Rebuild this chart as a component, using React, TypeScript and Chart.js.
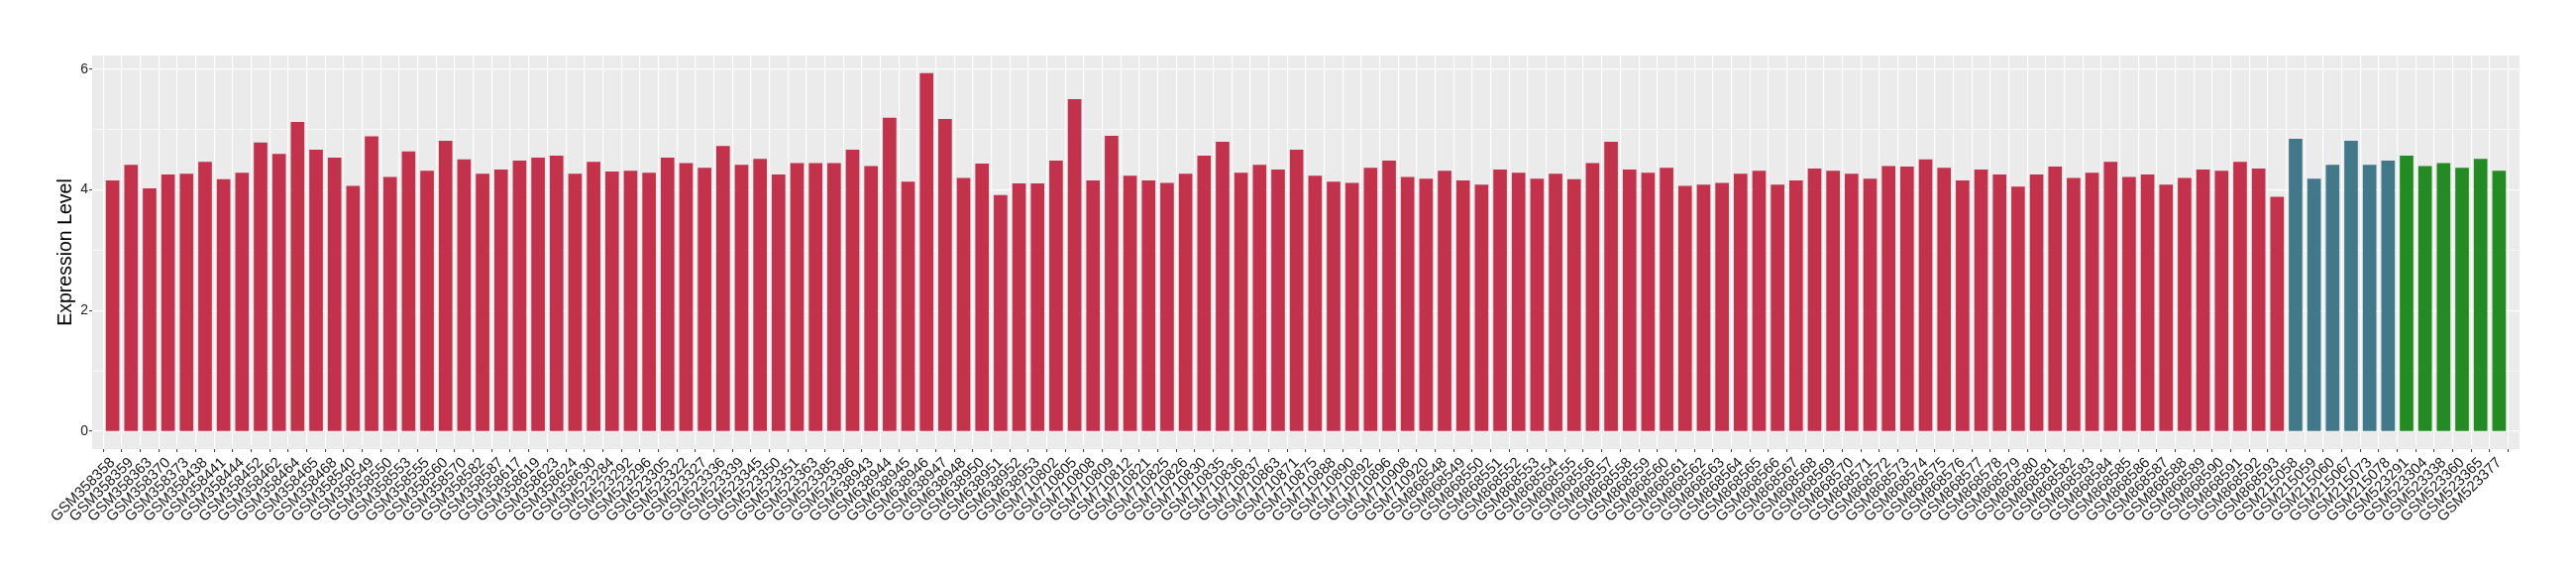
import React, { useEffect, useRef } from "react";
import { Chart, registerables } from "chart.js";

Chart.register(...registerables);

const redSamples = [
  "GSM358358","GSM358359","GSM358363","GSM358370","GSM358373","GSM358438","GSM358441","GSM358444","GSM358452","GSM358462",
  "GSM358464","GSM358465","GSM358468","GSM358540","GSM358549","GSM358550","GSM358553","GSM358555","GSM358560","GSM358570",
  "GSM358582","GSM358587","GSM358617","GSM358619","GSM358623","GSM358624","GSM358630","GSM523284","GSM523292","GSM523296",
  "GSM523305","GSM523322","GSM523327","GSM523336","GSM523339","GSM523345","GSM523350","GSM523351","GSM523363","GSM523385",
  "GSM523386","GSM638943","GSM638944","GSM638945","GSM638946","GSM638947","GSM638948","GSM638950","GSM638951","GSM638952",
  "GSM638953","GSM710802","GSM710805","GSM710808","GSM710809","GSM710812","GSM710821","GSM710825","GSM710826","GSM710830",
  "GSM710835","GSM710836","GSM710837","GSM710863","GSM710871","GSM710875","GSM710888","GSM710890","GSM710892","GSM710896",
  "GSM710908","GSM710920","GSM868548","GSM868549","GSM868550","GSM868551","GSM868552","GSM868553","GSM868554","GSM868555",
  "GSM868556","GSM868557","GSM868558","GSM868559","GSM868560","GSM868561","GSM868562","GSM868563","GSM868564","GSM868565",
  "GSM868566","GSM868567","GSM868568","GSM868569","GSM868570","GSM868571","GSM868572","GSM868573","GSM868574","GSM868575",
  "GSM868576","GSM868577","GSM868578","GSM868579","GSM868580","GSM868581","GSM868582","GSM868583","GSM868584","GSM868585",
  "GSM868586","GSM868587","GSM868588","GSM868589","GSM868590","GSM868591","GSM868592","GSM868593",
];
const redValues = [
  4.15, 4.41, 4.02, 4.25, 4.26, 4.46, 4.17, 4.28, 4.78, 4.59,
  5.12, 4.66, 4.53, 4.06, 4.88, 4.21, 4.63, 4.31, 4.81, 4.50,
  4.26, 4.33, 4.48, 4.53, 4.56, 4.26, 4.46, 4.30, 4.31, 4.28,
  4.53, 4.44, 4.36, 4.72, 4.41, 4.51, 4.25, 4.44, 4.44, 4.44,
  4.66, 4.39, 5.19, 4.13, 5.93, 5.17, 4.19, 4.43, 3.91, 4.10,
  4.10, 4.48, 5.50, 4.15, 4.89, 4.23, 4.15, 4.11, 4.26, 4.56,
  4.79, 4.28, 4.41, 4.33, 4.66, 4.23, 4.13, 4.11, 4.36, 4.48,
  4.21, 4.18, 4.31, 4.15, 4.08, 4.33, 4.28, 4.18, 4.26, 4.17,
  4.44, 4.79, 4.33, 4.28, 4.36, 4.06, 4.08, 4.11, 4.26, 4.31,
  4.08, 4.15, 4.35, 4.31, 4.26, 4.18, 4.39, 4.38, 4.50, 4.36,
  4.15, 4.33, 4.25, 4.05, 4.25, 4.38, 4.19, 4.28, 4.46, 4.21,
  4.25, 4.08, 4.19, 4.33, 4.31, 4.46, 4.35, 3.88,
];
const tealSamples = ["GSM215058","GSM215059","GSM215060","GSM215067","GSM215073","GSM215078"];
const tealValues = [4.84, 4.18, 4.41, 4.81, 4.41, 4.48];
const greenSamples = ["GSM523291","GSM523304","GSM523338","GSM523360","GSM523365","GSM523377"];
const greenValues = [4.56, 4.39, 4.44, 4.36, 4.51, 4.31];

const yTickValues = [0, 1, 2, 3, 4, 5, 6];
const yLabelValues = [0, 2, 4, 6];

const RED = "#C3314A";
const TEAL = "#42798A";
const GREEN = "#228B22";
const FONT = "'Liberation Sans', Arial, sans-serif";

export default function App() {
  const canvasRef = useRef<HTMLCanvasElement | null>(null);

  useEffect(() => {
    const labels = [...redSamples, ...tealSamples, ...greenSamples];
    const values = [...redValues, ...tealValues, ...greenValues];
    const colors = [
      ...redSamples.map(() => RED),
      ...tealSamples.map(() => TEAL),
      ...greenSamples.map(() => GREEN),
    ];
    const n = labels.length;
    const maxV = Math.max(...values);
    const pad = maxV * 0.05;

    const panelBg = {
      id: "panelBg",
      beforeDraw(chart: any) {
        const { ctx, chartArea } = chart;
        ctx.save();
        ctx.fillStyle = "#EBEBEB";
        ctx.fillRect(chartArea.left, chartArea.top, chartArea.right - chartArea.left, chartArea.bottom - chartArea.top);
        ctx.restore();
      },
    };

    const chart = new Chart(canvasRef.current as HTMLCanvasElement, {
      type: "bar",
      data: {
        datasets: [
          {
            data: values.map((v, i) => ({ x: i, y: v })),
            backgroundColor: colors,
            barThickness: 13,
            borderWidth: 0,
          },
        ],
      },
      plugins: [panelBg],
      options: {
        animation: false,
        responsive: true,
        maintainAspectRatio: false,
        layout: { padding: { top: 56, right: 57, left: 0, bottom: 0 } },
        plugins: { legend: { display: false }, tooltip: { enabled: false } },
        scales: {
          x: {
            type: "linear",
            min: -0.6,
            max: n - 1 + 0.6,
            afterBuildTicks: (scale: any) => {
              scale.ticks = labels.map((_, i) => ({ value: i }));
            },
            afterFit: (scale: any) => {
              scale.height = 127;
            },
            border: { display: false },
            grid: {
              color: "#FFFFFF",
              lineWidth: 1.2,
              drawTicks: true,
              tickLength: 3,
              tickColor: "#333333",
              tickWidth: 1,
            },
            ticks: {
              autoSkip: false,
              maxRotation: 45,
              minRotation: 45,
              padding: 2,
              color: "#1A1A1A",
              font: { family: FONT, size: 15 },
              callback: (v: any) => labels[v] ?? "",
            },
          },
          y: {
            type: "linear",
            min: -pad,
            max: maxV + pad,
            afterBuildTicks: (scale: any) => {
              scale.ticks = yTickValues.map((v) => ({ value: v }));
            },
            afterFit: (scale: any) => {
              scale.width = 93;
            },
            border: { display: false },
            grid: {
              color: "#FFFFFF",
              lineWidth: (ctx: any) => (yLabelValues.includes(ctx.tick?.value) ? 1.2 : 0.6),
              drawTicks: true,
              tickLength: 3,
              tickColor: (ctx: any) => (yLabelValues.includes(ctx.tick?.value) ? "#333333" : "rgba(0,0,0,0)"),
              tickWidth: 1,
            },
            ticks: {
              padding: 1,
              color: "#222222",
              font: { family: FONT, size: 14 },
              callback: (v: any) => (yLabelValues.includes(v) ? String(v) : ""),
            },
            title: {
              display: true,
              text: "Expression Level",
              color: "#000000",
              font: { family: FONT, size: 19.5 },
              padding: { top: 55, bottom: 0 },
            },
          },
        },
      },
    } as any);

    return () => chart.destroy();
  }, []);

  return (
    <div style={{ position: "fixed", left: 0, top: 0, width: "2600px", height: "580px", background: "#FFFFFF" }}>
      <canvas ref={canvasRef} />
    </div>
  );
}
